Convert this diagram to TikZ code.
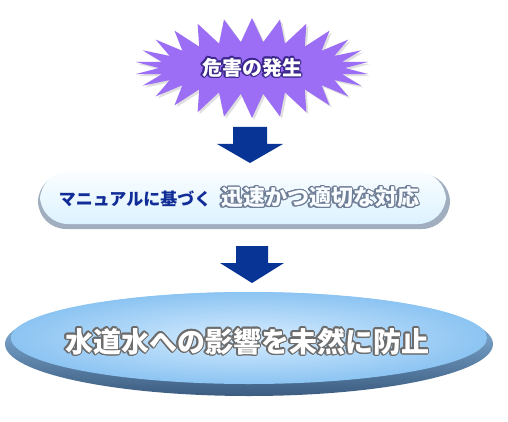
\documentclass[tikz,border=0pt]{standalone}
\usepackage{fontspec}
\usepackage{contour}
\usetikzlibrary{shapes.symbols,shadows}
\newfontfamily\cjk{Noto Sans CJK JP}
\contournumber{16}

\definecolor{burstpurple}{RGB}{155,110,245}
\definecolor{burstline}{RGB}{60,40,140}
\definecolor{arrowblue}{RGB}{8,52,150}
\definecolor{boxtop}{RGB}{250,253,255}
\definecolor{boxbot}{RGB}{220,242,255}
\definecolor{boxedge}{RGB}{120,140,165}
\definecolor{textnavy}{RGB}{16,44,150}
\definecolor{textgray}{RGB}{110,125,150}
\definecolor{elltop}{RGB}{160,208,250}
\definecolor{ellbot}{RGB}{60,92,128}
\definecolor{ellin}{RGB}{214,236,255}
\definecolor{ellout}{RGB}{140,196,242}

\begin{document}
\begin{tikzpicture}[x=1pt,y=-1pt]
    \tikzset{
        burst/.style = {starburst, starburst points=26, starburst point height=24pt,
            random starburst=0, fill=burstpurple, draw=none,
            minimum width=234pt, minimum height=100pt, inner sep=0pt,
            drop shadow={opacity=0.25, shadow xshift=2pt, shadow yshift=-2pt}},
        bigarrow/.style = {fill=arrowblue},
        plate/.style = {rounded corners=28pt},
        every node/.style = {font=\cjk\bfseries}
    }
    \useasboundingbox (0,0) rectangle (508,422);

    % hazard
    \node[burst] (hazard) at (252,68) {};
    \node[text=white] (hazardtext) at (hazard.center)
        {\fontsize{20}{20}\selectfont\contourlength{1.2pt}\contour{burstline}{危害の発生}};

    % first arrow
    \coordinate (a1) at (250,127);
    \fill[bigarrow] (a1) ++(-17,0) -- ++(34,0) -- ++(0,17) -- ++(16,0)
        -- (250,163) -- (217,144) -- (233,144) -- cycle;

    % response
    \fill[boxedge!70, plate] (38,174) rectangle (450,229);
    \shade[plate, top color=boxtop, bottom color=boxbot] (40,172) rectangle (446,224);
    \node (manual) at (135,199) {\fontsize{17}{17}\selectfont\color{textnavy}マニュアルに基づく};
    \node[text=boxtop] (quick) at (320,198)
        {\fontsize{22}{22}\selectfont\contourlength{1.1pt}\contour{textgray}{迅速かつ適切な対応}};

    % second arrow
    \coordinate (a2) at (252,246);
    \fill[bigarrow] (a2) ++(-16,0) -- ++(32,0) -- ++(0,17) -- ++(16,0)
        -- (252,283) -- (220,263) -- (236,263) -- cycle;

    % prevention
    \shade[top color=elltop, bottom color=ellbot] (249,344) ellipse (244pt and 52pt);
    \shade[inner color=ellin, outer color=ellout] (249,338) ellipse (238pt and 46pt);
    \node[text=white] (prevent) at (247,342)
        {\fontsize{28}{28}\selectfont\contourlength{1.3pt}\contour{gray!85!black}{水道水への影響を未然に防止}};
\end{tikzpicture}
\end{document}
